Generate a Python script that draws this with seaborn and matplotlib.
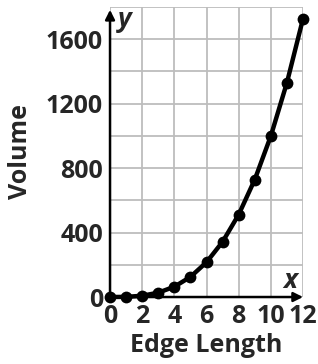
import numpy as np
import pandas as pd
import matplotlib
matplotlib.use('Agg')
import matplotlib.pyplot as plt
import seaborn as sns

edge_length = [0, 1, 2, 3, 4, 5, 6, 7, 8, 9, 10, 11, 12]
volume = [0, 1, 8, 27, 64, 125, 216, 343, 512, 729, 1000, 1331, 1728]
x_ticks = [0, 2, 4, 6, 8, 10, 12]
y_ticks = [0, 400, 800, 1200, 1600]

df = pd.DataFrame({'edge': edge_length, 'volume': volume})

sns.set_style('white')
plt.rcParams['font.family'] = ['Open Sans', 'DejaVu Sans']

fig = plt.figure(figsize=(3.18, 3.64), dpi=100)
ax = fig.add_axes([0.346, 0.184, 0.607, 0.797])

sns.lineplot(x='edge', y='volume', data=df, ax=ax, color='black', linewidth=3.2,
             marker='o', markersize=8.5, markeredgewidth=0, clip_on=False, zorder=5)

ax.set_xlim(0, 12)
ax.set_ylim(0, 1800)
ax.set_xticks(x_ticks)
ax.set_yticks(y_ticks)
ax.set_yticks(range(0, 1801, 200), minor=True)
ax.grid(True, which='both', color='#bdbdbd', linewidth=1.3)
ax.tick_params(which='both', length=0)
ax.tick_params(axis='x', pad=5)
ax.tick_params(axis='y', pad=5)
for lab in ax.get_xticklabels() + ax.get_yticklabels():
    lab.set_fontsize(18)
    lab.set_fontweight('bold')

for s in ax.spines.values():
    s.set_visible(False)

# axes with arrows
ax.annotate('', xy=(1.0, 0), xytext=(0, 0), xycoords='axes fraction',
            arrowprops=dict(arrowstyle='-|>', color='black', lw=1.8, mutation_scale=14,
                            shrinkA=0, shrinkB=0), zorder=4)
ax.annotate('', xy=(0, 0.99), xytext=(0, 0), xycoords='axes fraction',
            arrowprops=dict(arrowstyle='-|>', color='black', lw=1.8, mutation_scale=14,
                            shrinkA=0, shrinkB=0), zorder=4)
ax.text(0.04, 0.931, 'y', transform=ax.transAxes, fontsize=19, fontweight='bold',
        fontstyle='italic', ha='left', va='baseline')
ax.text(0.933, 0.031, 'x', transform=ax.transAxes, fontsize=19, fontweight='bold',
        fontstyle='italic', ha='center', va='baseline')

ax.set_xlabel('Edge Length', fontsize=18, fontweight='bold', labelpad=3)
ax.set_ylabel('Volume', fontsize=18, fontweight='bold', labelpad=9)

fig.savefig('out.png', dpi=100)
